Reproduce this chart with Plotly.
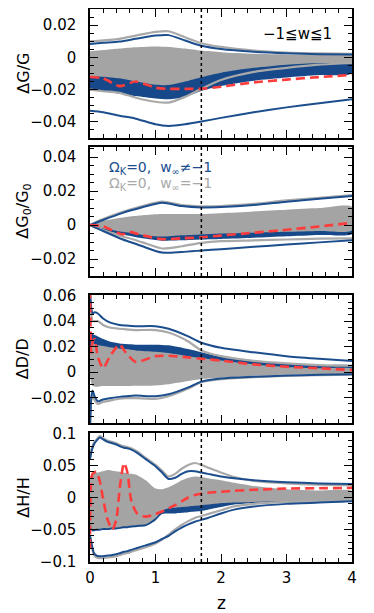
import plotly.graph_objects as go

# ---- panel 1: dG/G ----
Z_G = [0, 0.2, 0.45, 0.7, 1.0, 1.2, 1.45, 1.7, 2.0, 2.5, 3.0, 3.5, 4.0]
G_GRAY_HI95 = [0.0099, 0.0105, 0.0115, 0.0135, 0.0158, 0.0162, 0.0125, 0.0088, 0.0065, 0.0042, 0.003, 0.0025, 0.0022]
G_BLUE_HI95 = [0.0083, 0.009, 0.0098, 0.0115, 0.0135, 0.0138, 0.0105, 0.0072, 0.0052, 0.0035, 0.0025, 0.002, 0.0018]
G_GRAY_BAND_HI = [0.0038, 0.0045, 0.0055, 0.0063, 0.0068, 0.0065, 0.0055, 0.0042, 0.0032, 0.0022, 0.0018, 0.0016, 0.0015]
G_GRAY_BAND_LO = [-0.0115, -0.012, -0.013, -0.015, -0.017, -0.0172, -0.015, -0.0123, -0.0095, -0.0065, -0.0045, -0.0035, -0.0028]
G_BLUE_BAND_HI = [0.003, 0.0035, 0.004, 0.0045, 0.005, 0.005, 0.004, 0.003, 0.002, 0.0012, 0.0008, 0.0006, 0.0005]
G_BLUE_BAND_LO = [-0.0205, -0.021, -0.0225, -0.024, -0.0255, -0.026, -0.0245, -0.0208, -0.0178, -0.0145, -0.0125, -0.011, -0.0098]
G_GRAY_LO95 = [-0.020, -0.021, -0.022, -0.025, -0.0275, -0.028, -0.0245, -0.0195, -0.014, -0.009, -0.0065, -0.0045, -0.0035]
G_BLUE_LO95 = [-0.0331, -0.034, -0.0362, -0.038, -0.0415, -0.0425, -0.0415, -0.0398, -0.0375, -0.034, -0.031, -0.0285, -0.026]
G_RED = [-0.0122, -0.013, -0.0178, -0.015, -0.0188, -0.0195, -0.0195, -0.0195, -0.0182, -0.0155, -0.0138, -0.0122, -0.0109]

# ---- panel 2: dG0/G0 ----
Z_G0 = [0, 0.2, 0.5, 0.6, 0.8, 1.1, 1.4, 1.7, 2.0, 2.5, 3.0, 3.5, 4.0]
G0_GRAY_HI95 = [0, 0.0035, 0.0078, 0.009, 0.0112, 0.0138, 0.0118, 0.011, 0.0112, 0.0125, 0.0145, 0.016, 0.0176]
G0_BLUE_HI95 = [0, 0.003, 0.0072, 0.0084, 0.0105, 0.0131, 0.0112, 0.0104, 0.0106, 0.0118, 0.0138, 0.0155, 0.0171]
G0_GRAY_BAND_HI = [0, 0.0025, 0.0045, 0.005, 0.0058, 0.0065, 0.0065, 0.0065, 0.007, 0.008, 0.009, 0.01, 0.0108]
G0_GRAY_BAND_LO = [0, -0.002, -0.004, -0.0046, -0.0058, -0.0068, -0.006, -0.0055, -0.005, -0.0045, -0.004, -0.0035, -0.003]
G0_BLUE_BAND_HI = [0, 0.001, 0.002, 0.002, 0.003, 0.003, 0.002, 0.001, 0.001, 0.001, 0.001, 0.001, 0.001]
G0_BLUE_BAND_LO = [0, -0.003, -0.0055, -0.0063, -0.0078, -0.0092, -0.009, -0.0085, -0.0082, -0.0075, -0.0066, -0.0058, -0.0052]
G0_GRAY_LO95 = [0, -0.003, -0.0068, -0.0078, -0.0102, -0.0138, -0.0125, -0.0105, -0.0095, -0.009, -0.0085, -0.008, -0.0078]
G0_BLUE_LO95 = [0, -0.0035, -0.0085, -0.0098, -0.0125, -0.0162, -0.0158, -0.015, -0.0142, -0.0128, -0.0115, -0.0102, -0.009]
G0_RED = [0, -0.0008, -0.0055, -0.004, -0.006, -0.0083, -0.0078, -0.0072, -0.0062, -0.0045, -0.0028, -0.0008, 0.0013]

# ---- panel 3: dD/D ----
Z_D = [0, 0.02, 0.04, 0.07, 0.12, 0.2, 0.3, 0.45, 0.55, 0.7, 1.0, 1.2, 1.5, 1.7, 2.0, 2.5, 3.0, 3.5, 4.0]
D_BLUE_HI95 = [0.065, 0.05, 0.046, 0.047, 0.046, 0.042, 0.039, 0.037, 0.0365, 0.036, 0.036, 0.034, 0.028, 0.023, 0.019, 0.0155, 0.0125, 0.0105, 0.0087]
D_GRAY_HI95 = [0.062, 0.045, 0.04, 0.04, 0.04, 0.037, 0.035, 0.034, 0.0335, 0.033, 0.033, 0.031, 0.024, 0.017, 0.0125, 0.0088, 0.0068, 0.0055, 0.005]
D_BLUE_BAND_HI = [0.03, 0.031, 0.03, 0.029, 0.028, 0.026, 0.024, 0.0225, 0.022, 0.0215, 0.0215, 0.021, 0.018, 0.0155, 0.012, 0.0085, 0.0065, 0.0055, 0.0048]
D_BLUE_BAND_LO = [0.01, 0.015, 0.016, 0.016, 0.015, 0.015, 0.014, 0.013, 0.013, 0.012, 0.011, 0.01, 0.008, 0.007, 0.006, 0.004, 0.0025, 0.002, 0.0015]
D_GRAY_BAND_HI = [0.015, 0.022, 0.023, 0.022, 0.021, 0.0205, 0.0195, 0.0185, 0.018, 0.017, 0.016, 0.015, 0.0125, 0.011, 0.009, 0.006, 0.004, 0.003, 0.0025]
D_GRAY_BAND_LO = [-0.003, -0.009, -0.011, -0.0115, -0.0115, -0.011, -0.011, -0.011, -0.011, -0.0108, -0.0105, -0.0095, -0.007, -0.0055, -0.0045, -0.003, -0.002, -0.0015, -0.0012]
D_BLUE_LO95 = [-0.045, -0.02, -0.0145, -0.019, -0.023, -0.0215, -0.0205, -0.0195, -0.019, -0.0185, -0.019, -0.0175, -0.012, -0.0075, -0.005, -0.0037, -0.0028, -0.0022, -0.0018]
D_GRAY_LO95 = [-0.045, -0.022, -0.018, -0.022, -0.025, -0.0235, -0.0225, -0.021, -0.0205, -0.0205, -0.021, -0.019, -0.013, -0.008, -0.0055, -0.004, -0.003, -0.0025, -0.002]
D_RED = [0.065, 0.015, 0.024, 0.026, 0.012, 0.003, 0.012, 0.0215, 0.015, 0.008, 0.0125, 0.0128, 0.0115, 0.0105, 0.009, 0.006, 0.0042, 0.003, 0.0016]

# ---- panel 4: dH/H ----
Z_H = [0, 0.03, 0.06, 0.1, 0.15, 0.2, 0.27, 0.34, 0.4, 0.46, 0.52, 0.57, 0.63, 0.72, 0.85,
       1.0, 1.1, 1.2, 1.3, 1.4, 1.5, 1.6, 1.7, 1.8, 2.0, 2.2, 2.5, 3.0, 3.5, 4.0]
H_BLUE_HI95 = [0.06, 0.075, 0.083, 0.089, 0.094, 0.091, 0.087, 0.085, 0.083, 0.08, 0.078, 0.077, 0.075, 0.07, 0.06,
               0.049, 0.039, 0.029, 0.031, 0.037, 0.041, 0.041, 0.039, 0.037, 0.033, 0.03, 0.027, 0.024, 0.022, 0.021]
H_GRAY_HI95 = [0.062, 0.078, 0.086, 0.091, 0.096, 0.093, 0.089, 0.087, 0.085, 0.082, 0.08, 0.079, 0.077, 0.072, 0.062,
               0.051, 0.042, 0.033, 0.037, 0.045, 0.051, 0.054, 0.051, 0.047, 0.039, 0.032, 0.026, 0.022, 0.02, 0.019]
H_GRAY_BAND_HI = [0.03, 0.038, 0.04, 0.039, 0.04, 0.041, 0.043, 0.042, 0.041, 0.04, 0.039, 0.038, 0.037, 0.035, 0.027,
                  0.014, 0.013, 0.016, 0.021, 0.027, 0.031, 0.033, 0.032, 0.03, 0.027, 0.023, 0.018, 0.013, 0.011, 0.01]
H_GRAY_BAND_LO = [-0.04, -0.05, -0.05, -0.049, -0.049, -0.048, -0.048, -0.047, -0.047, -0.046, -0.045, -0.045, -0.044, -0.043, -0.042,
                  -0.032, -0.021, -0.017, -0.016, -0.015, -0.014, -0.013, -0.012, -0.011, -0.009, -0.008, -0.007, -0.006, -0.006, -0.005]
H_BLUE_BAND_HI = [0.02, 0.025, 0.025, 0.025, 0.025, 0.025, 0.025, 0.025, 0.025, 0.025, 0.025, 0.025, 0.024, 0.022, 0.015,
                  0.005, 0.0, -0.005, -0.006, -0.006, -0.006, -0.006, -0.005, -0.005, -0.004, -0.004, -0.003, -0.003, -0.002, -0.002]
H_BLUE_BAND_LO = [-0.043, -0.053, -0.053, -0.052, -0.052, -0.051, -0.051, -0.05, -0.05, -0.049, -0.048, -0.048, -0.047, -0.046, -0.045,
                  -0.036, -0.026, -0.025, -0.025, -0.024, -0.023, -0.022, -0.021, -0.019, -0.015, -0.011, -0.0085, -0.007, -0.0065, -0.006]
H_BLUE_LO95 = [-0.06, -0.075, -0.087, -0.091, -0.092, -0.092, -0.091, -0.09, -0.089, -0.087, -0.085, -0.084, -0.082, -0.079, -0.075,
               -0.07, -0.065, -0.06, -0.053, -0.047, -0.042, -0.038, -0.035, -0.032, -0.025, -0.019, -0.014, -0.01, -0.008, -0.006]
H_GRAY_LO95 = [-0.062, -0.078, -0.09, -0.094, -0.095, -0.095, -0.094, -0.093, -0.092, -0.09, -0.088, -0.087, -0.085, -0.082, -0.078,
               -0.072, -0.066, -0.058, -0.05, -0.043, -0.037, -0.032, -0.029, -0.026, -0.02, -0.014, -0.01, -0.007, -0.006, -0.005]
H_RED = [-0.08, 0.035, 0.039, 0.04, 0.025, -0.002, -0.035, -0.05, -0.035, 0.02, 0.054, 0.04, -0.005, -0.025, -0.03,
         -0.026, -0.022, -0.017, -0.012, -0.006, 0.0, 0.004, 0.006, 0.0075, 0.009, 0.0105, 0.012, 0.014, 0.0145, 0.015]

Z_MARK = 1.7

BLUE = "#1c4e8e"
BLUE_FILL = "#17498a"
GRAY_LINE = "#a9a9a9"
GRAY_FILL = "#a4a4a4"
RED = "#ff3c3c"
FONT = "DejaVu Sans"

panels = [
    dict(z=Z_G, bhi=G_BLUE_BAND_HI, blo=G_BLUE_BAND_LO, ghi=G_GRAY_BAND_HI, glo=G_GRAY_BAND_LO,
         g95=(G_GRAY_HI95, G_GRAY_LO95), b95=(G_BLUE_HI95, G_BLUE_LO95), red=G_RED,
         rng=[-0.05, 0.03], ticks=[-0.04, -0.02, 0, 0.02], labels=["−0.04", "−0.02", "0", "0.02"],
         minor=0.005, dom=[0.7667, 1.0], title="ΔG/G"),
    dict(z=Z_G0, bhi=G0_BLUE_BAND_HI, blo=G0_BLUE_BAND_LO, ghi=G0_GRAY_BAND_HI, glo=G0_GRAY_BAND_LO,
         g95=(G0_GRAY_HI95, G0_GRAY_LO95), b95=(G0_BLUE_HI95, G0_BLUE_LO95), red=G0_RED,
         rng=[-0.03, 0.046], ticks=[-0.02, 0, 0.02, 0.04], labels=["−0.02", "0", "0.02", "0.04"],
         minor=0.005, dom=[0.5172, 0.7505], title="ΔG<sub>0</sub>/G<sub>0</sub>"),
    dict(z=Z_D, bhi=D_BLUE_BAND_HI, blo=D_BLUE_BAND_LO, ghi=D_GRAY_BAND_HI, glo=D_GRAY_BAND_LO,
         g95=(D_GRAY_HI95, D_GRAY_LO95), b95=(D_BLUE_HI95, D_BLUE_LO95), red=D_RED,
         rng=[-0.04, 0.0605], ticks=[-0.02, 0, 0.02, 0.04, 0.06], labels=["−0.02", "0", "0.02", "0.04", "0.06"],
         minor=0.005, dom=[0.2514, 0.4828], title="ΔD/D"),
    dict(z=Z_H, bhi=H_BLUE_BAND_HI, blo=H_BLUE_BAND_LO, ghi=H_GRAY_BAND_HI, glo=H_GRAY_BAND_LO,
         g95=(H_GRAY_HI95, H_GRAY_LO95), b95=(H_BLUE_HI95, H_BLUE_LO95), red=H_RED,
         rng=[-0.101, 0.101], ticks=[-0.1, -0.05, 0, 0.05, 0.1], labels=["−0.1", "−0.05", "0", "0.05", "0.1"],
         minor=0.01, dom=[0.0, 0.2333], title="ΔH/H"),
]


def band(z, hi, lo):
    return list(z) + list(z)[::-1], list(hi) + list(lo)[::-1]


fig = go.Figure()
layout = {}
shapes = []
annotations = []

for i, p in enumerate(panels, start=1):
    xa = "x" if i == 1 else f"x{i}"
    ya = "y" if i == 1 else f"y{i}"
    ln = dict(shape="spline", smoothing=0.7)

    bx, by = band(p["z"], p["bhi"], p["blo"])
    fig.add_trace(go.Scatter(x=bx, y=by, fill="toself", fillcolor=BLUE_FILL, mode="lines",
                             line=dict(width=0, color=BLUE_FILL, **ln), xaxis=xa, yaxis=ya))
    gx, gy = band(p["z"], p["ghi"], p["glo"])
    fig.add_trace(go.Scatter(x=gx, y=gy, fill="toself", fillcolor=GRAY_FILL, mode="lines",
                             line=dict(width=0, color=GRAY_FILL, **ln), xaxis=xa, yaxis=ya))
    for arr in p["g95"]:
        fig.add_trace(go.Scatter(x=p["z"], y=arr, mode="lines",
                                 line=dict(color=GRAY_LINE, width=2.2, **ln), xaxis=xa, yaxis=ya))
    for arr in p["b95"]:
        fig.add_trace(go.Scatter(x=p["z"], y=arr, mode="lines",
                                 line=dict(color=BLUE, width=2.0, **ln), xaxis=xa, yaxis=ya))
    fig.add_trace(go.Scatter(x=p["z"], y=p["red"], mode="lines",
                             line=dict(color=RED, width=2.6, dash="9px,5px", **ln), xaxis=xa, yaxis=ya))

    common = dict(showline=True, linecolor="black", linewidth=1.5, mirror="allticks", automargin=False,
                  ticks="inside", tickcolor="black", tickwidth=1.2, showgrid=False, zeroline=False,
                  tickfont=dict(family=FONT, size=15, color="black"))
    layout["xaxis" if i == 1 else f"xaxis{i}"] = dict(
        common, domain=[0, 1], anchor=ya, range=[0, 4], tickvals=[0, 1, 2, 3, 4], ticklen=8,
        minor=dict(dtick=0.2, tick0=0, ticks="inside", ticklen=4, tickcolor="black", tickwidth=1.2),
        showticklabels=(i == 4), ticklabelstandoff=1,
    )
    layout["yaxis" if i == 1 else f"yaxis{i}"] = dict(
        common, domain=p["dom"], anchor=xa, range=p["rng"], tickvals=p["ticks"], ticktext=p["labels"],
        ticklen=8, ticklabelstandoff=9,
        minor=dict(dtick=p["minor"], tick0=0, ticks="inside", ticklen=4, tickcolor="black", tickwidth=1.2),
    )
    shapes.append(dict(type="line", xref=xa, yref=f"{ya} domain", x0=Z_MARK, x1=Z_MARK, y0=0, y1=1,
                       line=dict(color="black", width=1.5, dash="dot")))
    annotations.append(dict(text=p["title"], textangle=-90, xref="paper", yref="paper",
                            x=-0.255, y=sum(p["dom"]) / 2, xanchor="center", yanchor="middle",
                            showarrow=False, font=dict(family=FONT, size=16, color="black")))

annotations.append(dict(text="z", xref="paper", yref="paper", x=0.5, y=-0.074,
                        xanchor="center", yanchor="middle", showarrow=False,
                        font=dict(family=FONT, size=17, color="black")))
annotations.append(dict(text="−1≦w≦1", xref="x domain", yref="y domain", x=0.93, y=0.81,
                        xanchor="right", yanchor="middle", showarrow=False,
                        font=dict(family=FONT, size=15, color="black")))
annotations.append(dict(text="Ω<sub>K</sub>=0,  w<sub>∞</sub>≠−1", xref="x2 domain", yref="y2 domain",
                        x=0.065, y=0.835, xanchor="left", yanchor="middle", showarrow=False,
                        font=dict(family=FONT, size=14, color=BLUE)))
annotations.append(dict(text="Ω<sub>K</sub>=0,  w<sub>∞</sub>=−1", xref="x2 domain", yref="y2 domain",
                        x=0.065, y=0.715, xanchor="left", yanchor="middle", showarrow=False,
                        font=dict(family=FONT, size=14, color=GRAY_LINE)))

# page body adds an 8px offset, so the figure is sized to fill the rest of the window
fig.update_layout(
    width=366, height=605, showlegend=False,
    margin=dict(l=82, r=22, t=1, b=51, autoexpand=False),
    paper_bgcolor="white", plot_bgcolor="white",
    shapes=shapes, annotations=annotations,
    **layout,
)
fig.write_html("out.html")
